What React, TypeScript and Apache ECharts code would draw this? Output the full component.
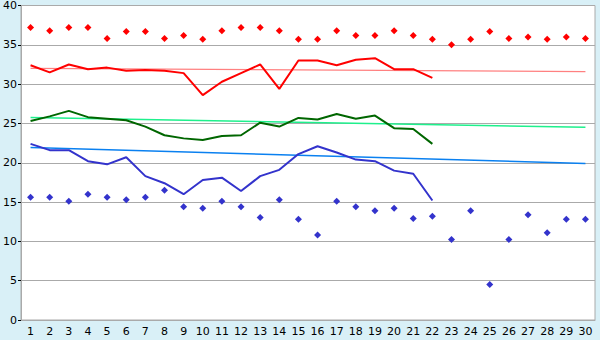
import React, { useEffect, useRef } from "react";
import * as echarts from "echarts";

const categories = Array.from({ length: 30 }, (_, i) => String(i + 1));

const maxPoints = [37.2, 36.8, 37.2, 37.2, 35.8, 36.7, 36.7, 35.8, 36.2, 35.7, 36.8, 37.2, 37.2, 36.8, 35.7, 35.7, 36.8, 36.2, 36.2, 36.8, 36.2, 35.7, 35.0, 35.7, 36.7, 35.8, 36.0, 35.7, 36.0, 35.8];
const redLine = [32.4, 31.5, 32.5, 31.9, 32.1, 31.7, 31.8, 31.7, 31.4, 28.6, 30.3, 31.4, 32.5, 29.4, 33.0, 33.0, 32.4, 33.1, 33.3, 31.9, 31.9, 30.8];
const greenLine = [25.3, 25.9, 26.6, 25.8, 25.6, 25.4, 24.6, 23.5, 23.1, 22.9, 23.4, 23.5, 25.1, 24.6, 25.7, 25.5, 26.2, 25.6, 26.0, 24.4, 24.3, 22.4];
const blueLine = [22.4, 21.6, 21.6, 20.2, 19.8, 20.7, 18.3, 17.4, 16.0, 17.8, 18.1, 16.4, 18.3, 19.1, 21.1, 22.1, 21.3, 20.4, 20.2, 19.0, 18.6, 15.2];
const minPoints = [15.6, 15.6, 15.1, 16.0, 15.6, 15.3, 15.6, 16.5, 14.4, 14.2, 15.1, 14.4, 13.05, 15.3, 12.8, 10.8, 15.1, 14.4, 13.9, 14.2, 12.9, 13.2, 10.25, 13.9, 4.5, 10.25, 13.4, 11.1, 12.8, 12.8];
const redTrendEnds = [32.0, 31.6];
const greenTrendEnds = [25.75, 24.5];
const blueTrendEnds = [21.95, 19.9];

function trend(ends: number[]) {
  return categories.map((_, i) => (i === 0 ? ends[0] : i === categories.length - 1 ? ends[1] : null));
}

export default function App() {
  const ref = useRef<HTMLDivElement>(null);
  useEffect(() => {
    if (!ref.current) return;
    const chart = echarts.init(ref.current, undefined, { renderer: "svg" });
    const font = "DejaVu Sans";
    chart.setOption({
      animation: false,
      backgroundColor: "#d9f0f7",
      grid: {
        left: 20,
        right: 5,
        top: 5,
        bottom: 20,
        show: true,
        backgroundColor: "#ffffff",
        borderColor: "#aaaaaa",
        borderWidth: 1,
      },
      xAxis: {
        type: "category",
        data: categories,
        boundaryGap: true,
        axisLine: { lineStyle: { color: "#aaaaaa" } },
        axisTick: { alignWithLabel: true, length: 4, lineStyle: { color: "#000000" } },
        axisLabel: { color: "#000000", fontFamily: font, fontSize: 11, margin: 6, interval: 0 },
        splitLine: { show: false },
      },
      yAxis: {
        type: "value",
        min: 0,
        max: 40,
        interval: 5,
        axisLine: { show: true, lineStyle: { color: "#aaaaaa" } },
        axisTick: { show: true, length: 3, lineStyle: { color: "#000000" } },
        axisLabel: { color: "#000000", fontFamily: font, fontSize: 11, margin: 4 },
        splitLine: { lineStyle: { color: "#aaaaaa", width: 1 } },
      },
      series: [
        {
          type: "line",
          data: trend(redTrendEnds),
          connectNulls: true,
          showSymbol: false,
          lineStyle: { color: "#ff8080", width: 1.2 },
          silent: true,
        },
        {
          type: "line",
          data: trend(greenTrendEnds),
          connectNulls: true,
          showSymbol: false,
          lineStyle: { color: "#1ef08c", width: 1.5 },
          silent: true,
        },
        {
          type: "line",
          data: trend(blueTrendEnds),
          connectNulls: true,
          showSymbol: false,
          lineStyle: { color: "#0a80f0", width: 1.5 },
          silent: true,
        },
        {
          type: "line",
          data: redLine,
          showSymbol: false,
          lineStyle: { color: "#ff0000", width: 2 },
        },
        {
          type: "line",
          data: greenLine,
          showSymbol: false,
          lineStyle: { color: "#006600", width: 2 },
        },
        {
          type: "line",
          data: blueLine,
          showSymbol: false,
          lineStyle: { color: "#3333cc", width: 2 },
        },
        {
          type: "scatter",
          data: maxPoints,
          symbol: "diamond",
          symbolSize: 7,
          itemStyle: { color: "#ff0000", opacity: 1 },
        },
        {
          type: "scatter",
          data: minPoints,
          symbol: "diamond",
          symbolSize: 7,
          itemStyle: { color: "#3333cc", opacity: 1 },
        },
      ],
    });
    return () => chart.dispose();
  }, []);
  return (
    <div
      ref={ref}
      style={{ position: "fixed", left: 0, top: 0, width: 600, height: 340 }}
    />
  );
}
